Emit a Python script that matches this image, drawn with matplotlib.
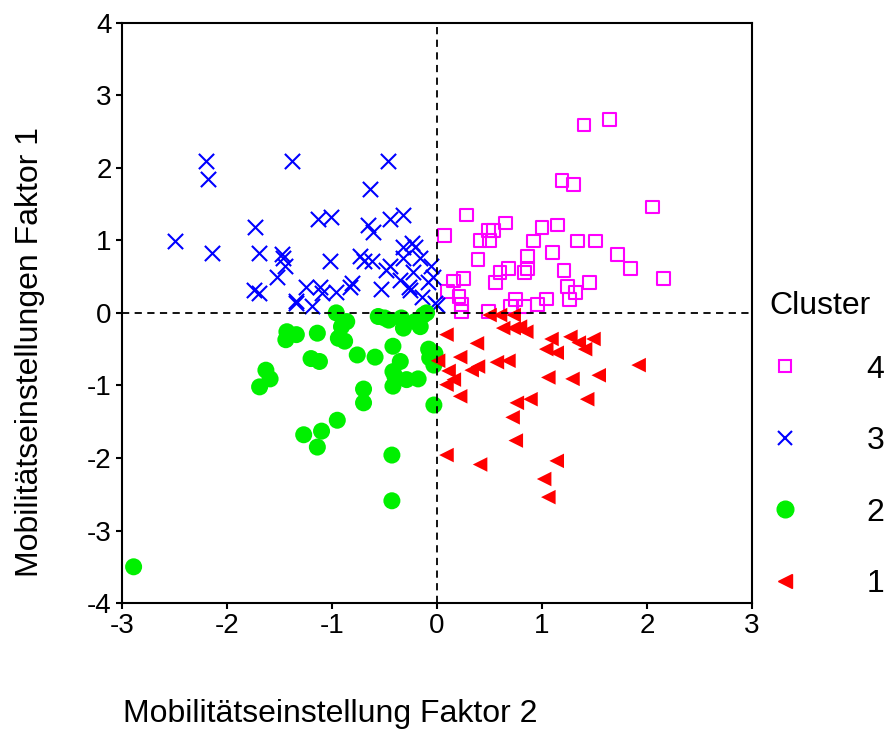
import numpy as np
import matplotlib.pyplot as plt
from matplotlib.lines import Line2D

plt.rcParams['font.family'] = ['Liberation Sans', 'DejaVu Sans']
plt.rcParams['axes.unicode_minus'] = False

# Cluster 4 (Quadrat, magenta)
c4_x = [1.40, 1.64, 1.19, 1.30, 2.05, 0.28, 0.07, 0.49, 0.54, 0.65, 0.41, 0.50,
        1.00, 1.15, 0.92, 1.34, 1.51, 1.10, 0.39, 0.86, 1.72, 1.84, 2.16, 0.68,
        0.60, 0.86, 0.83, 0.56, 1.21, 1.45, 1.24, 1.32, 1.26, 0.25, 0.16, 0.10,
        0.21, 0.23, 0.23, 0.49, 0.75, 0.83, 0.96, 1.04, 0.70]
c4_y = [2.59, 2.67, 1.82, 1.77, 1.46, 1.35, 1.07, 1.13, 1.13, 1.24, 1.00, 1.00,
        1.18, 1.21, 0.99, 0.99, 0.99, 0.83, 0.74, 0.78, 0.80, 0.61, 0.47, 0.61,
        0.56, 0.61, 0.56, 0.42, 0.58, 0.42, 0.36, 0.28, 0.18, 0.47, 0.44, 0.30,
        0.23, 0.11, 0.02, 0.02, 0.18, 0.09, 0.11, 0.19, 0.09]

# Cluster 3 (Kreuz, blau)
c3_x = [-2.20, -2.18, -1.38, -0.47, -0.64, -2.50, -2.14, -1.73, -1.70, -1.74,
        -1.70, -1.48, -1.47, -1.45, -1.52, -1.34, -1.25, -1.19, -1.13, -1.01,
        -1.11, -1.10, -1.02, -0.96, -0.83, -0.81, -0.73, -0.70, -0.62, -0.66,
        -0.61, -0.53, -0.49, -0.45, -0.45, -0.32, -0.32, -0.24, -0.21, -0.32,
        -0.35, -0.27, -0.26, -0.23, -0.16, -0.09, -0.06, -0.14, -0.04, -0.02,
        0.00, -1.34]
c3_y = [2.09, 1.84, 2.09, 2.09, 1.71, 0.99, 0.83, 1.19, 0.83, 0.31,
        0.28, 0.81, 0.75, 0.65, 0.50, 0.17, 0.36, 0.09, 1.29, 1.32,
        0.36, 0.28, 0.72, 0.29, 0.36, 0.41, 0.79, 0.71, 0.72, 1.21,
        1.12, 0.33, 0.59, 0.64, 1.29, 1.35, 0.91, 0.96, 0.91, 0.75,
        0.45, 0.36, 0.32, 0.57, 0.75, 0.43, 0.64, 0.22, 0.50, 0.14,
        0.11, 0.13]

# Cluster 2 (Kreis, gruen)
c2_x = [-0.96, -0.86, -0.91, -1.43, -1.34, -1.44, -1.14, -0.94, -0.88, -1.20,
        -1.12, -0.76, -0.59, -0.56, -0.46, -0.34, -0.32, -0.21, -0.16, -0.10,
        -0.42, -0.35, -0.42, -0.40, -0.29, -0.18, -0.42, -0.08, -0.02, -0.03,
        -0.03, -1.63, -1.59, -1.69, -0.70, -0.70, -0.95, -1.10, -1.27, -1.14,
        -0.43, -0.43, -2.89, -0.50, -0.13, -0.07]
c2_y = [0.00, -0.12, -0.19, -0.26, -0.30, -0.37, -0.28, -0.35, -0.39, -0.63,
        -0.67, -0.58, -0.61, -0.05, -0.10, -0.07, -0.21, -0.12, -0.19, 0.00,
        -0.46, -0.67, -0.81, -0.88, -0.92, -0.91, -1.01, -0.50, -0.56, -0.72,
        -1.27, -0.79, -0.91, -1.02, -1.05, -1.24, -1.48, -1.63, -1.68, -1.85,
        -1.96, -2.59, -3.50, -0.07, -0.03, -0.62]

# Cluster 1 (Dreieck, rot)
c1_x = [0.09, 0.38, 0.01, 0.22, 0.11, 0.16, 0.09, 0.22, 0.33, 0.39,
        0.57, 0.68, 0.50, 0.60, 0.73, 0.63, 0.73, 0.85, 1.09, 1.27,
        1.49, 1.04, 1.14, 1.35, 1.41, 1.92, 1.06, 1.29, 1.54, 0.76,
        0.89, 1.43, 0.72, 0.75, 0.09, 0.41, 1.14, 1.02, 1.06, 0.79]
c1_y = [-0.30, -0.42, -0.66, -0.61, -0.80, -0.92, -0.99, -1.15, -0.79, -0.74,
        -0.68, -0.66, -0.03, -0.03, -0.03, -0.21, -0.21, -0.26, -0.36, -0.33,
        -0.36, -0.50, -0.55, -0.41, -0.50, -0.72, -0.89, -0.91, -0.86, -1.24,
        -1.19, -1.19, -1.44, -1.76, -1.96, -2.09, -2.04, -2.29, -2.54, -0.19]

fig = plt.figure(figsize=(8.91, 7.31), dpi=100)
ax = fig.add_axes([0.137, 0.175, 0.707, 0.794])

ax.scatter(c4_x, c4_y, marker='s', s=85, facecolors='none', edgecolors='#ff00ff', linewidths=1.5, zorder=3)
ax.scatter(c3_x, c3_y, marker='x', s=120, color='#0000ff', linewidths=1.5, zorder=3)
ax.scatter(c2_x, c2_y, marker='o', s=150, color='#00f000', edgecolors='none', zorder=3)
ax.scatter(c1_x, c1_y, marker='<', s=110, color='#ff0000', edgecolors='none', zorder=3)

# Referenzlinien
ax.axhline(0, color='black', linestyle=(0, (4, 3)), linewidth=1.3, zorder=4)
ax.axvline(0, color='black', linestyle=(0, (4, 3)), linewidth=1.3, zorder=4)

ax.set_xlim(-3, 3)
ax.set_ylim(-4, 4)
ax.set_xticks(np.arange(-3, 4, 1))
ax.set_yticks(np.arange(-4, 5, 1))
ax.tick_params(labelsize=20, length=4, width=1.5, direction='out')
for sp in ax.spines.values():
    sp.set_linewidth(1.5)

fig.text(0.371, 0.023, 'Mobilitätseinstellung Faktor 2', fontsize=23, ha='center', va='center')
fig.text(0.034, 0.518, 'Mobilitätseinstellungen Faktor 1', fontsize=23, ha='center', va='center', rotation=90)

# Legende
handles = [
    Line2D([], [], linestyle='none', marker='s', markersize=9, markerfacecolor='none',
           markeredgecolor='#ff00ff', markeredgewidth=1.5),
    Line2D([], [], linestyle='none', marker='x', markersize=10, color='#0000ff', markeredgewidth=1.5),
    Line2D([], [], linestyle='none', marker='o', markersize=12, color='#00f000'),
    Line2D([], [], linestyle='none', marker='<', markersize=10, color='#ff0000'),
]
leg = fig.legend(handles, ['4', '3', '2', '1'], title='Cluster', loc='upper left',
                 bbox_to_anchor=(0.831, 0.641), frameon=False, fontsize=23, title_fontsize=23,
                 handlelength=1.0, handletextpad=2.05, labelspacing=1.3, alignment='left')
leg._legend_box.sep = 24  # Abstand Titel -> erster Eintrag etwas kleiner

fig.savefig('out.png', dpi=100)
